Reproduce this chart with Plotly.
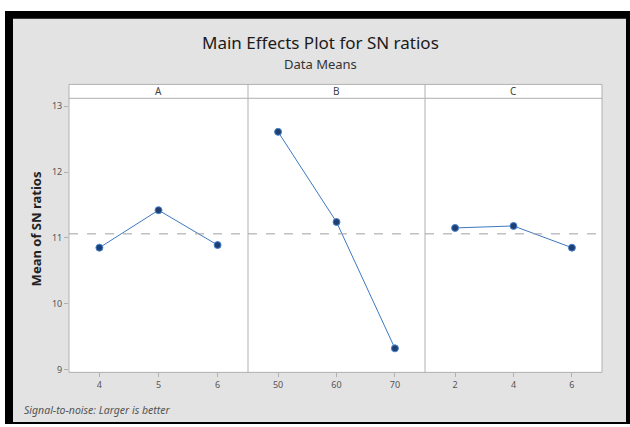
import plotly.graph_objects as go

W, H = 630, 427

# ---- data ----
factors = ["A", "B", "C"]
levels_A = [4, 5, 6]
levels_B = [50, 60, 70]
levels_C = [2, 4, 6]
sn_A = [10.85, 11.42, 10.89]
sn_B = [12.61, 11.24, 9.32]
sn_C = [11.15, 11.18, 10.85]
grand_mean = 11.06
y_ticks = [9, 10, 11, 12, 13]

levels = [levels_A, levels_B, levels_C]
values = [sn_A, sn_B, sn_C]

def px(x):
    return x / W

def py(y):
    return 1 - y / H

# panel pixel bounds
panel_x = [(69, 248), (248, 425), (425, 602)]
plot_top, plot_bot = 99, 375
strip_top = 85

fig = go.Figure()

axis_font = dict(family="Noto Sans, DejaVu Sans, sans-serif", size=9, color="#555555")
line_col = "#b0b0b0"

layout_upd = {}
for i in range(3):
    xa = "xaxis" if i == 0 else f"xaxis{i+1}"
    ya = "yaxis" if i == 0 else f"yaxis{i+1}"
    xr = "x" if i == 0 else f"x{i+1}"
    yr = "y" if i == 0 else f"y{i+1}"
    lv = levels[i]
    step = lv[1] - lv[0]
    fig.add_trace(go.Scatter(
        x=lv, y=values[i], xaxis=xr, yaxis=yr, mode="lines+markers",
        line=dict(color="#3d78c2", width=1),
        marker=dict(color="#1f3f73", size=7, line=dict(color="#4a86d0", width=1)),
        showlegend=False, hoverinfo="x+y"))
    layout_upd[xa] = dict(
        domain=[px(panel_x[i][0]), px(panel_x[i][1])],
        anchor=yr, range=[lv[0] - 0.515 * step, lv[-1] + 0.515 * step],
        tickmode="array", tickvals=lv, ticktext=[str(v) for v in lv],
        ticks="outside", ticklen=4, tickcolor=line_col, tickfont=axis_font,
        showline=False, showgrid=False, zeroline=False)
    layout_upd[ya] = dict(
        domain=[py(plot_bot), py(plot_top)],
        anchor=xr, range=[8.955, 13.12],
        tickmode="array", tickvals=y_ticks,
        ticks="outside" if i == 0 else "", ticklen=4, tickcolor=line_col,
        showticklabels=(i == 0), tickfont=axis_font,
        showline=False, showgrid=False, zeroline=False)
    if i > 0:
        layout_upd[ya]["matches"] = "y"

fig.update_layout(**layout_upd)

shapes = [
    # black frame
    dict(type="rect", xref="paper", yref="paper", x0=px(5), x1=px(630), y0=py(427), y1=py(11),
         fillcolor="black", line=dict(width=0), layer="below"),
    dict(type="rect", xref="paper", yref="paper", x0=px(13), x1=px(626), y0=py(425), y1=py(19),
         fillcolor="#e3e3e3", line=dict(width=0), layer="below"),
    # white plot + strip background
    dict(type="rect", xref="paper", yref="paper",
         x0=px(panel_x[0][0]), x1=px(panel_x[2][1]), y0=py(plot_bot), y1=py(strip_top),
         fillcolor="white", line=dict(width=0), layer="below"),
    # plot border
    dict(type="rect", xref="paper", yref="paper",
         x0=px(panel_x[0][0]), x1=px(panel_x[2][1]), y0=py(plot_bot), y1=py(strip_top),
         fillcolor="rgba(0,0,0,0)", line=dict(color=line_col, width=1)),
    # strip bottom line
    dict(type="line", xref="paper", yref="paper",
         x0=px(panel_x[0][0]), x1=px(panel_x[2][1]), y0=py(plot_top), y1=py(plot_top),
         line=dict(color=line_col, width=1)),
]
for xs in (panel_x[1][0], panel_x[2][0]):
    shapes.append(dict(type="line", xref="paper", yref="paper",
                       x0=px(xs), x1=px(xs), y0=py(plot_bot), y1=py(strip_top),
                       line=dict(color=line_col, width=1)))

annotations = []
for i in range(3):
    xr = "x" if i == 0 else f"x{i+1}"
    yr = "y" if i == 0 else f"y{i+1}"
    annotations.append(dict(xref="paper", yref="paper",
                            x=(px(panel_x[i][0]) + px(panel_x[i][1])) / 2, y=py((plot_top + strip_top) / 2),
                            text=factors[i], showarrow=False, xanchor="center", yanchor="middle",
                            font=dict(family="Noto Sans, DejaVu Sans, sans-serif", size=10, color="#444444")))
    # grand mean reference
    shapes.append(dict(type="line", xref=f"{xr} domain", yref=yr, x0=0, x1=1,
                       y0=grand_mean, y1=grand_mean,
                       line=dict(color="#a0a0a0", width=1, dash="dash")))

annotations += [
    dict(xref="paper", yref="paper", x=px(320), y=py(43), text="Main Effects Plot for SN ratios",
         showarrow=False, xanchor="center", yanchor="middle",
         font=dict(family="Noto Sans, sans-serif", size=17, color="#1a1a1a")),
    dict(xref="paper", yref="paper", x=px(320), y=py(64), text="Data Means",
         showarrow=False, xanchor="center", yanchor="middle",
         font=dict(family="Noto Sans, sans-serif", size=13, color="#333333")),
    dict(xref="paper", yref="paper", x=px(36), y=py(231), text="<b>Mean of SN ratios</b>",
         showarrow=False, xanchor="center", yanchor="middle", textangle=-90,
         font=dict(family="Noto Sans, sans-serif", size=13, color="#222222")),
    dict(xref="paper", yref="paper", x=px(22), y=py(413), text="<i>Signal-to-noise: Larger is better</i>",
         showarrow=False, xanchor="left", yanchor="middle",
         font=dict(family="Noto Sans, sans-serif", size=10.5, color="#555555")),
]

fig.update_layout(
    width=W, height=H, margin=dict(l=0, r=0, t=0, b=0),
    paper_bgcolor="white", plot_bgcolor="rgba(0,0,0,0)",
    shapes=shapes, annotations=annotations, showlegend=False)

fig.write_html("out.html")
